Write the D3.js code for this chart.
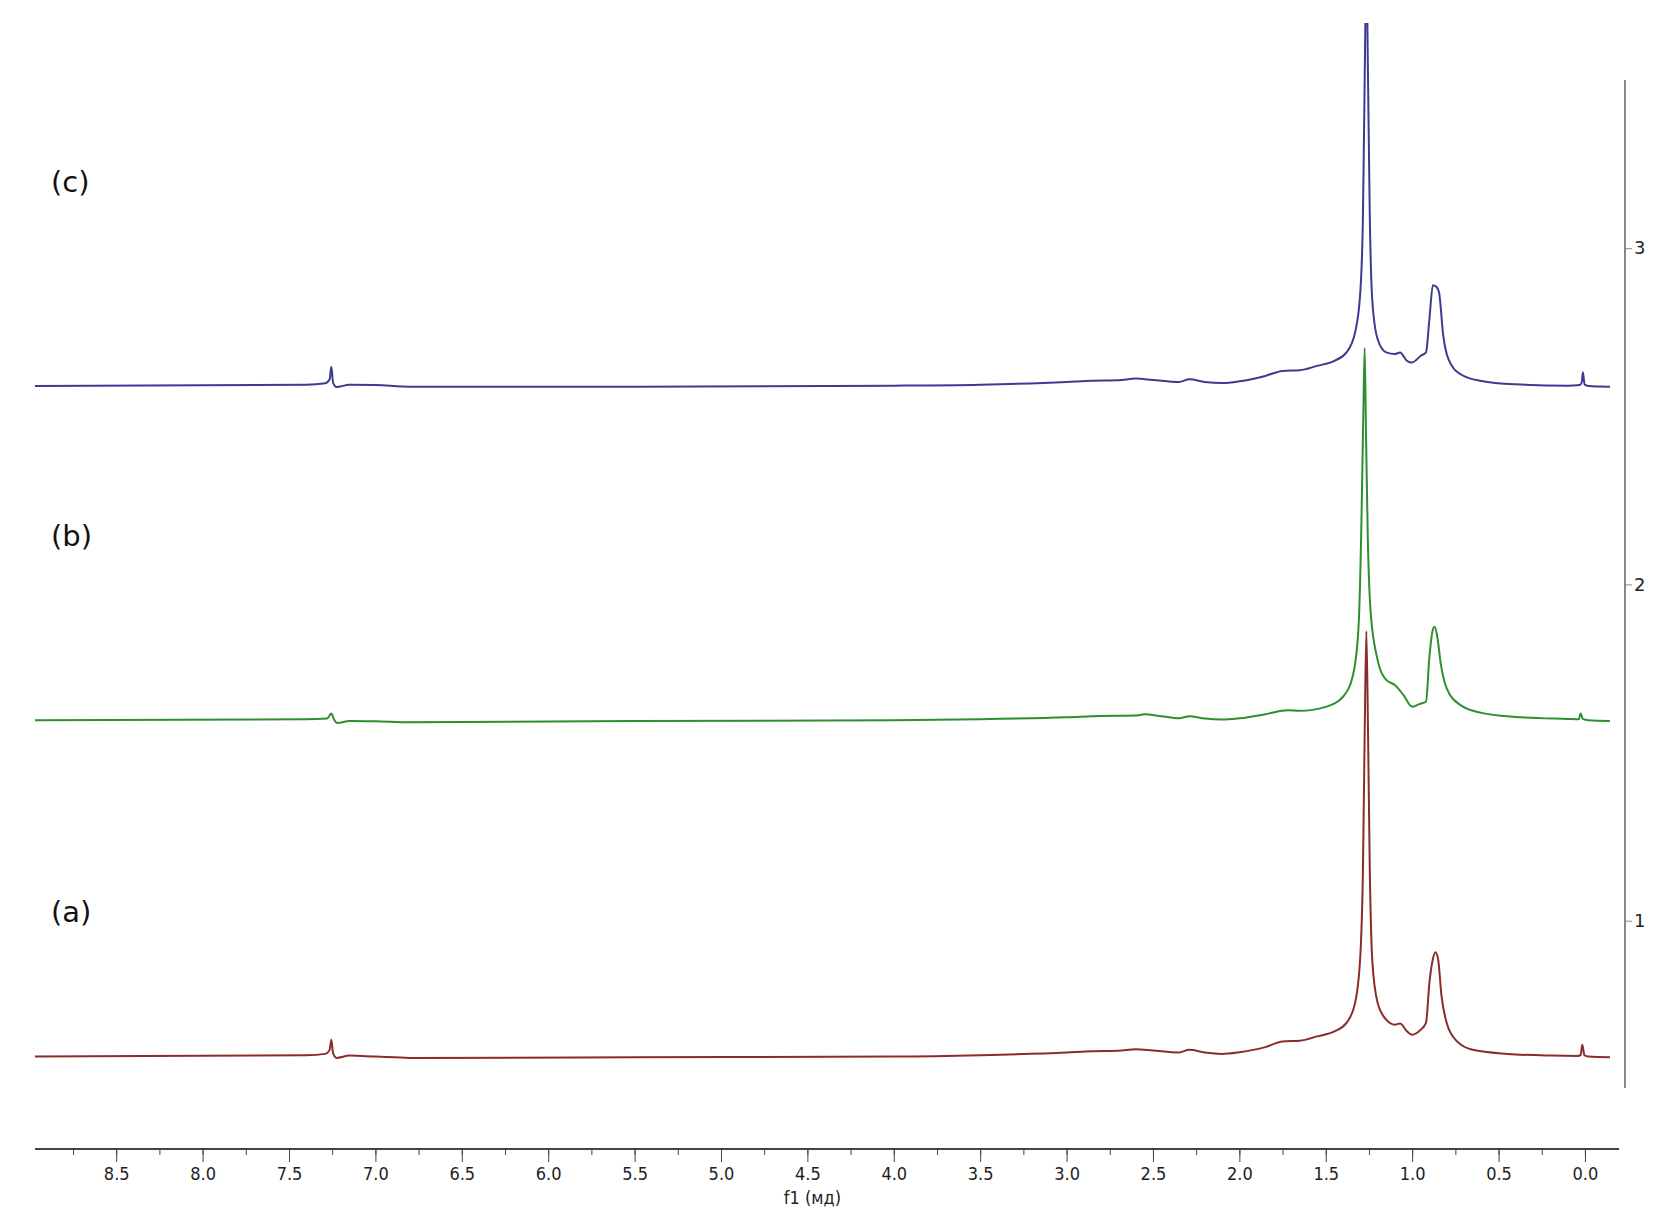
<!DOCTYPE html>
<html><head><meta charset="utf-8">
<script src="https://cdn.jsdelivr.net/npm/d3@7"></script>
<style>body{margin:0;background:#fff}</style></head>
<body><svg id="c" width="1655" height="1223"></svg>
<script>
const xTicks=[8.5,8.0,7.5,7.0,6.5,6.0,5.5,5.0,4.5,4.0,3.5,3.0,2.5,2.0,1.5,1.0,0.5,0.0];
const yTicks=[1,2,3];
const labels=["(a)","(b)","(c)"];
const offsets=[0.596,1.596,2.59];
const colors=["#8b2c2c","#2f8f2f","#3b3b8f"];
const specA=[[8.97,0],[7.4,0.004],[7.29,0.008],[7.265,0.02],[7.255,0.05],[7.245,0.01],[7.225,-0.004],[7.15,0.003],[7.0,0.0],[6.8,-0.004],[5.5,-0.002],[4.0,0.0],[3.5,0.004],[3.0,0.012],[2.85,0.016],[2.7,0.017],[2.6,0.022],[2.5,0.018],[2.35,0.012],[2.29,0.02],[2.2,0.012],[2.1,0.008],[2.0,0.013],[1.85,0.028],[1.75,0.045],[1.65,0.047],[1.55,0.06],[1.45,0.075],[1.38,0.1],[1.33,0.16],[1.30,0.3],[1.285,0.55],[1.275,0.95],[1.265,1.265],[1.255,0.95],[1.245,0.55],[1.23,0.28],[1.2,0.16],[1.15,0.11],[1.1,0.095],[1.07,0.098],[1.03,0.075],[1.0,0.065],[0.95,0.08],[0.92,0.1],[0.9,0.22],[0.88,0.29],[0.865,0.31],[0.85,0.29],[0.83,0.18],[0.8,0.1],[0.74,0.045],[0.65,0.02],[0.45,0.008],[0.2,0.003],[0.04,0.002],[0.025,0.005],[0.015,0.035],[0.003,0.004],[-0.02,0],[-0.145,-0.002]];
const specB=[[8.97,0],[7.4,0.003],[7.28,0.005],[7.255,0.02],[7.24,0.003],[7.22,-0.008],[7.15,-0.002],[7.0,-0.003],[6.8,-0.006],[5.5,-0.002],[4.0,0.0],[3.5,0.003],[3.0,0.009],[2.8,0.013],[2.6,0.014],[2.55,0.018],[2.45,0.012],[2.35,0.006],[2.29,0.012],[2.2,0.005],[2.1,0.002],[2.0,0.006],[1.85,0.018],[1.72,0.03],[1.65,0.028],[1.5,0.04],[1.4,0.07],[1.34,0.14],[1.31,0.28],[1.295,0.55],[1.283,0.9],[1.275,1.107],[1.267,0.85],[1.257,0.55],[1.24,0.32],[1.2,0.18],[1.15,0.12],[1.1,0.105],[1.05,0.075],[1.0,0.04],[0.96,0.048],[0.92,0.055],[0.9,0.19],[0.88,0.27],[0.87,0.278],[0.855,0.25],[0.835,0.17],[0.8,0.095],[0.72,0.045],[0.6,0.022],[0.4,0.01],[0.1,0.004],[0.035,0.003],[0.025,0.02],[0.012,0.004],[-0.02,0],[-0.145,-0.002]];
const specC=[[8.97,0],[7.4,0.004],[7.29,0.008],[7.265,0.02],[7.255,0.057],[7.245,0.01],[7.225,-0.003],[7.15,0.004],[7.0,0.003],[6.8,-0.002],[5.5,-0.002],[4.0,0.001],[3.5,0.004],[3.0,0.012],[2.85,0.016],[2.7,0.017],[2.6,0.022],[2.5,0.018],[2.35,0.012],[2.29,0.02],[2.2,0.012],[2.1,0.009],[2.0,0.014],[1.85,0.03],[1.75,0.045],[1.65,0.047],[1.55,0.06],[1.45,0.075],[1.38,0.1],[1.33,0.16],[1.30,0.28],[1.285,0.5],[1.275,0.9],[1.265,1.25],[1.255,0.9],[1.245,0.5],[1.23,0.25],[1.2,0.14],[1.15,0.1],[1.1,0.095],[1.07,0.1],[1.03,0.075],[1.0,0.07],[0.95,0.09],[0.92,0.1],[0.9,0.2],[0.88,0.3],[0.86,0.295],[0.845,0.28],[0.82,0.15],[0.79,0.08],[0.72,0.035],[0.6,0.015],[0.4,0.005],[0.1,0.001],[0.03,0.003],[0.018,0.012],[0.012,0.041],[0.002,0.004],[-0.02,0],[-0.145,-0.002]];
const spectra=[specA,specB,specC];

const svg=d3.select("#c");
const x=d3.scaleLinear().domain([8.97,-0.145]).range([35,1610]);
const y=d3.scaleLinear().domain([0,3.5]).range([1257,80]);

svg.append("clipPath").attr("id","clip").append("rect").attr("x",0).attr("y",23).attr("width",1655).attr("height",1200);
const g=svg.append("g").attr("clip-path","url(#clip)");
const line=d3.line().x(d=>x(d[0])).y(d=>y(d[1])).curve(d3.curveMonotoneX);
spectra.forEach((s,i)=>{
  g.append("path").attr("d",line(s.map(p=>[p[0],p[1]+offsets[i]])))
   .attr("fill","none").attr("stroke",colors[i]).attr("stroke-width",2);
});
const labelY=[922,546,192];
labels.forEach((t,i)=>svg.append("text").attr("x",51).attr("y",labelY[i]).attr("font-family","DejaVu Sans").attr("font-size",29).attr("fill","#111").text(t));

const xa=svg.append("g").attr("transform","translate(0,1149)");
xa.append("line").attr("x1",35).attr("x2",1619).attr("stroke","#444").attr("stroke-width",2);
xa.call(d3.axisBottom(x).tickValues(d3.range(0,36).map(k=>k*0.25)).tickFormat("").tickSize(6)).select(".domain").remove();
xa.selectAll("line").attr("stroke","#444");
const xl=svg.append("g").attr("transform","translate(0,1149)");
xl.call(d3.axisBottom(x).tickValues(xTicks).tickFormat(d3.format(".1f")).tickSize(13));
xl.select(".domain").remove();
xl.selectAll("line").attr("stroke","#444");
xl.selectAll("text").attr("font-family","DejaVu Sans Condensed, DejaVu Sans").attr("font-size",18).attr("fill","#222").attr("dy","0.85em");
svg.append("text").attr("x",x(4.5)+5).attr("y",1204).attr("text-anchor","middle").attr("font-family","DejaVu Sans Condensed, DejaVu Sans").attr("font-size",18).attr("fill","#222").text("f1 (мд)");

const ya=svg.append("g").attr("transform","translate(1625,0)");
ya.append("line").attr("y1",80).attr("y2",1088).attr("stroke","#888").attr("stroke-width",2);
ya.call(d3.axisRight(y).tickValues(yTicks).tickFormat(d3.format("d")).tickSize(7));
ya.select(".domain").remove();
ya.selectAll("line").attr("stroke","#888");
ya.selectAll("text").attr("font-family","DejaVu Sans").attr("font-size",18).attr("fill","#222").attr("x",9);
</script></body></html>
